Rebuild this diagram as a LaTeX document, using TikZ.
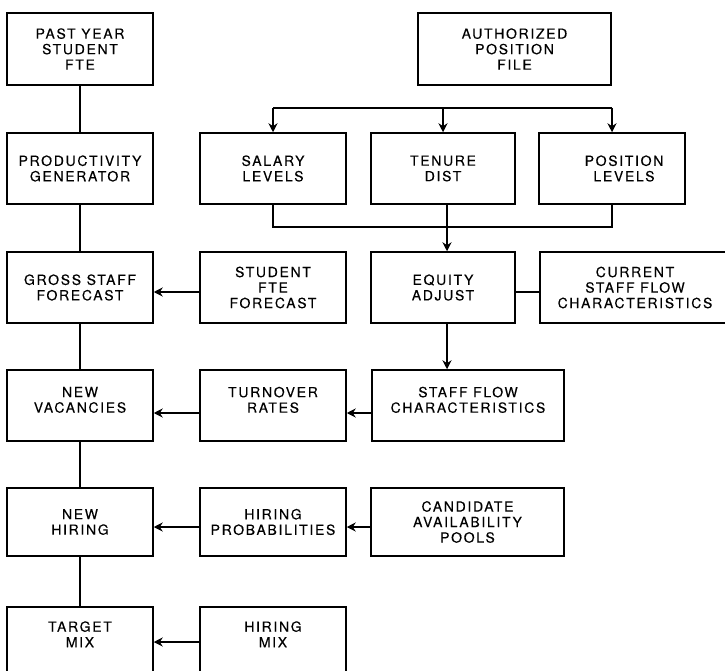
\documentclass[tikz,border=0pt]{standalone}
\usepackage{fontspec}
\setmainfont{TeX Gyre Heros}[LetterSpace=12,FakeBold=0.2]
\usetikzlibrary{arrows.meta}
\begin{document}
\begin{tikzpicture}[x=1pt,y=-1pt,
  box/.style={draw, line width=1.5pt, rectangle, inner sep=0pt, align=center,
    font=\fontsize{14}{15.5}\selectfont},
  link/.style={line width=2pt},
  arr/.style={line width=2pt, -{Stealth[length=9pt,width=9pt]}}]
\useasboundingbox (0,0) rectangle (725,671);
\begin{scope}
\clip (0,0) rectangle (725,671);
% left column: main forecasting chain
\node[box, minimum width=146pt, minimum height=72pt] (past) at (80,49) {PAST YEAR\\STUDENT\\FTE};
\node[box, minimum width=146pt, minimum height=71pt] (prod) at (80,168.5) {PRODUCTIVITY\\GENERATOR};
\node[box, minimum width=146pt, minimum height=71pt] (gross) at (80,287.5) {GROSS STAFF\\FORECAST};
\node[box, minimum width=146pt, minimum height=71pt] (vac) at (80,405.5) {NEW\\VACANCIES\\[-4pt]};
\node[box, minimum width=146pt, minimum height=68pt] (hire) at (80,522) {NEW\\HIRING};
\node[box, minimum width=146pt, minimum height=70pt] (target) at (80,642) {TARGET\\MIX\\[0pt]};
% second column: inputs
\node[box, minimum width=146pt, minimum height=71pt] (salary) at (273,168.5) {SALARY\\LEVELS};
\node[box, minimum width=146pt, minimum height=71pt] (student) at (273,287.5) {STUDENT\\FTE\\FORECAST};
\node[box, minimum width=146pt, minimum height=71pt] (turn) at (273,405.5) {TURNOVER\\RATES\\[-4pt]};
\node[box, minimum width=146pt, minimum height=68pt] (prob) at (273,522) {HIRING\\PROBABILITIES};
\node[box, minimum width=146pt, minimum height=70pt] (hmix) at (273,642) {HIRING\\MIX\\[0pt]};
% right part: position data and staff flow
\node[box, minimum width=193pt, minimum height=72pt] (auth) at (514.5,49) {AUTHORIZED\\POSITION\\FILE};
\node[box, minimum width=144pt, minimum height=71pt] (tenure) at (443,168.5) {TENURE\\DIST};
\node[box, minimum width=146pt, minimum height=71pt] (poslev) at (612,168.5) {\hspace*{24pt}POSITION\\\hspace*{24pt}LEVELS};
\node[box, minimum width=144pt, minimum height=71pt] (equity) at (443,287.5) {EQUITY\\ADJUST};
\node[box, minimum width=190pt, minimum height=71pt] (current) at (635,287.5) {CURRENT\\STAFF FLOW\\CHARACTERISTICS};
\node[box, minimum width=192pt, minimum height=71pt] (flow) at (468,405.5) {STAFF FLOW\\CHARACTERISTICS\\[-4pt]};
\node[box, minimum width=193pt, minimum height=68pt] (cand) at (467.5,522) {CANDIDATE\\AVAILABILITY\\POOLS};
\end{scope}
% vertical chain on the left
\draw[link] (past) -- (prod);
\draw[link] (prod) -- (gross);
\draw[link] (gross) -- (vac);
\draw[link] (vac) -- (hire);
\draw[link] (hire) -- (target);
% distribution bus from the position file
\coordinate (busL) at (273,108);
\coordinate (busR) at (612,108);
\draw[link] (busL) -- (busR);
\draw[arr] (busL) -- (salary.north);
\draw[arr] (tenure.north |- busL) -- (tenure.north);
\draw[arr] (busR) -- (poslev.north);
% salary and position levels joined into equity adjustment
\coordinate (joinL) at (273,227);
\coordinate (joinR) at (612,227);
\draw[link] (salary.south) -- (joinL) -- (joinR) -- (poslev.south);
\draw[arr] ([xshift=4pt]tenure.south) -- ([xshift=4pt]equity.north);
\draw[link] ([yshift=-4.5pt]equity.east) -- ([yshift=-4.5pt]equity.east -| current.west);
\draw[arr] ([xshift=4pt]equity.south) -- ([xshift=4pt]equity.south |- flow.north);
% horizontal feeds into the left column
\draw[arr] ([yshift=-4.5pt]student.west) -- ([yshift=-4.5pt]gross.east);
\draw[arr] ([yshift=-7.5pt]flow.west) -- ([yshift=-7.5pt]turn.east);
\draw[arr] ([yshift=-7.5pt]turn.west) -- ([yshift=-7.5pt]vac.east);
\draw[arr] ([yshift=-5pt]cand.west) -- ([yshift=-5pt]prob.east);
\draw[arr] ([yshift=-5pt]prob.west) -- ([yshift=-5pt]hire.east);
\draw[arr] (hmix.west) -- (target.east);
\end{tikzpicture}
\end{document}
